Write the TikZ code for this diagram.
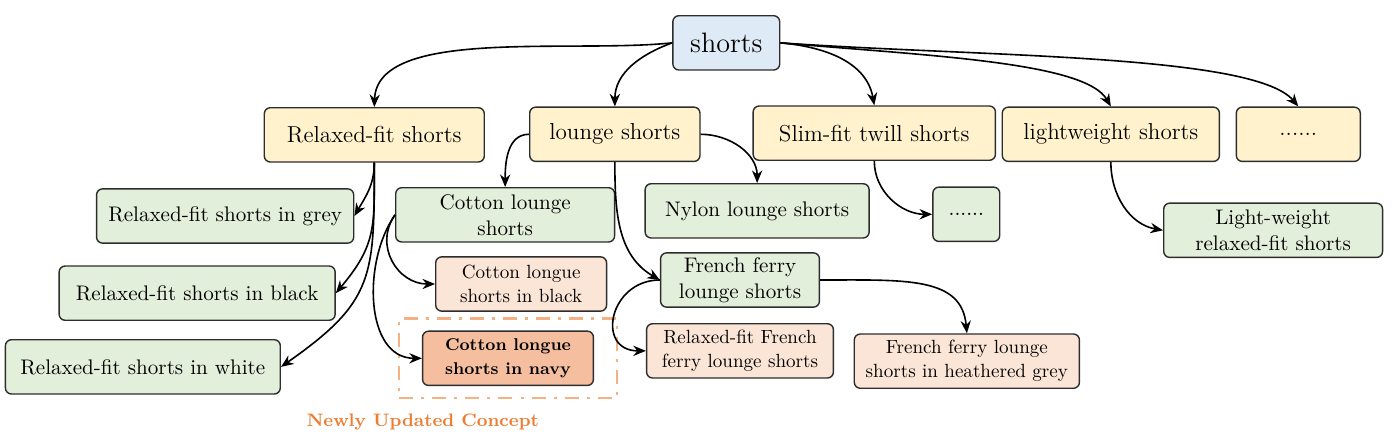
\documentclass[tikz,border=0pt]{standalone}
\usepackage{tikz}
\usetikzlibrary{arrows.meta,positioning,fit}
\definecolor{rootblue}{RGB}{222,234,246}
\definecolor{softyellow}{RGB}{255,242,204}
\definecolor{softgreen}{RGB}{226,239,218}
\definecolor{softpeach}{RGB}{251,229,214}
\definecolor{deeppeach}{RGB}{245,190,158}
\definecolor{conceptorange}{RGB}{237,125,49}
\definecolor{dashorange}{RGB}{244,177,131}
\definecolor{edgegray}{RGB}{45,45,45}
\tikzset{
  box/.style={draw=edgegray,line width=0.7pt,rounded corners=3pt,minimum height=0.95cm,align=center,inner sep=2pt},
  rootbox/.style={box,fill=rootblue,font=\fontsize{14}{16}\selectfont},
  catbox/.style={box,fill=softyellow,font=\fontsize{11.5}{14}\selectfont},
  itembox/.style={box,fill=softgreen,font=\fontsize{10.5}{13}\selectfont},
  leafbox/.style={box,fill=softpeach,font=\fontsize{9.5}{12}\selectfont},
  newbox/.style={box,fill=deeppeach,font=\fontsize{8.5}{11.5}\selectfont\bfseries},
  arrow/.style={-{Stealth[length=2.2mm,width=1.8mm]},thick},
  newgroup/.style={draw=dashorange,line width=1.3pt,dash pattern=on 7pt off 4pt on 1.5pt off 4pt,inner xsep=0.4cm,inner ysep=0.21cm}
}

\begin{document}
\begin{tikzpicture}
\useasboundingbox (0,0) rectangle (24.5,-7.8225);
% root and categories
\node[rootbox,minimum width=1.87cm] (root) at (12.71,-0.75) {shorts};
\node[catbox,minimum width=3.85cm] (relaxed) at (6.55,-2.36) {Relaxed-fit shorts};
\node[catbox,minimum width=2.98cm] (lounge) at (10.76,-2.35) {lounge shorts};
\node[catbox,minimum width=4.24cm] (slim) at (15.30,-2.33) {Slim-fit twill shorts};
\node[catbox,minimum width=3.80cm] (light) at (19.44,-2.35) {lightweight shorts};
\node[catbox,minimum width=2.17cm] (more) at (22.72,-2.35) {......};

% second level
\node[itembox,minimum width=4.50cm] (grey) at (3.94,-3.78) {Relaxed-fit shorts in grey};
\node[itembox,minimum width=4.83cm] (black) at (3.45,-5.13) {Relaxed-fit shorts in black};
\node[itembox,minimum width=4.81cm] (white) at (2.50,-6.42) {Relaxed-fit shorts in white};
\node[itembox,minimum width=3.83cm] (cotton) at (8.84,-3.76) {Cotton lounge\\shorts};
\node[itembox,minimum width=3.92cm] (nylon) at (13.25,-3.69) {Nylon lounge shorts};
\node[itembox,minimum width=1.17cm] (slimmore) at (16.91,-3.75) {......};
\node[itembox,minimum width=3.83cm] (lightrelaxed) at (22.28,-4.03) {Light-weight\\relaxed-fit shorts};
\node[itembox,minimum width=2.78cm] (french) at (12.95,-4.90) {French ferry\\lounge shorts};

% third level
\node[leafbox,minimum width=2.99cm] (cblack) at (9.12,-4.97) {Cotton longue\\shorts in black};
\node[newbox,minimum width=2.99cm] (cnavy) at (8.89,-6.27) {Cotton longue\\shorts in navy};
\node[leafbox,minimum width=3.27cm] (frelaxed) at (12.95,-6.14) {Relaxed-fit French\\ferry lounge shorts};
\node[leafbox,minimum width=3.94cm] (fgrey) at (16.92,-6.32) {French ferry lounge\\shorts in heathered grey};
\node[newgroup,fit=(cnavy)] (newgrp) {};
\node[font=\fontsize{9}{11}\selectfont\bfseries,text=conceptorange] (newlbl) at (7.40,-7.39) {Newly Updated Concept};

% connectors
\draw[arrow] (root.west) to[out=186,in=88,out distance=1.8cm,in distance=1.4cm] (relaxed.north);
\draw[arrow] (root.west) to[out=200,in=90] (lounge.north);
\draw[arrow] (root.east) to[out=-5,in=100] (slim.north);
\draw[arrow] (root.east) to[out=-5,in=120,out distance=2.6cm,in distance=0.9cm] (light.north);
\draw[arrow] (root.east) to[out=-4,in=130,out distance=3.5cm,in distance=1.2cm] (more.north);
\draw[arrow] (relaxed.south) to[out=-90,in=60] (grey.east);
\draw[arrow] (relaxed.south) to[out=-90,in=50,looseness=1.2] (black.east);
\draw[arrow] (relaxed.south) to[out=-90,in=35,looseness=1.3] (white.east);
\draw[arrow] (lounge.west) to[out=180,in=90] (cotton.north);
\draw[arrow] (lounge.east) to[out=0,in=90] (nylon.north);
\draw[arrow] (lounge.south) to[out=-90,in=150] (french.west);
\draw[arrow] (cotton.west) to[out=235,in=180,looseness=1.2] (cblack.west);
\draw[arrow] (cotton.west) to[out=235,in=180] (cnavy.west);
\draw[arrow] (french.west) to[out=180,in=180,looseness=1.8] (frelaxed.west);
\draw[arrow] (french.east) to[out=0,in=95,out distance=1.5cm,in distance=1cm] (fgrey.north);
\draw[arrow] (slim.south) to[out=-90,in=180] (slimmore.west);
\draw[arrow] (light.south) to[out=-90,in=170] (lightrelaxed.west);
\end{tikzpicture}
\end{document}
